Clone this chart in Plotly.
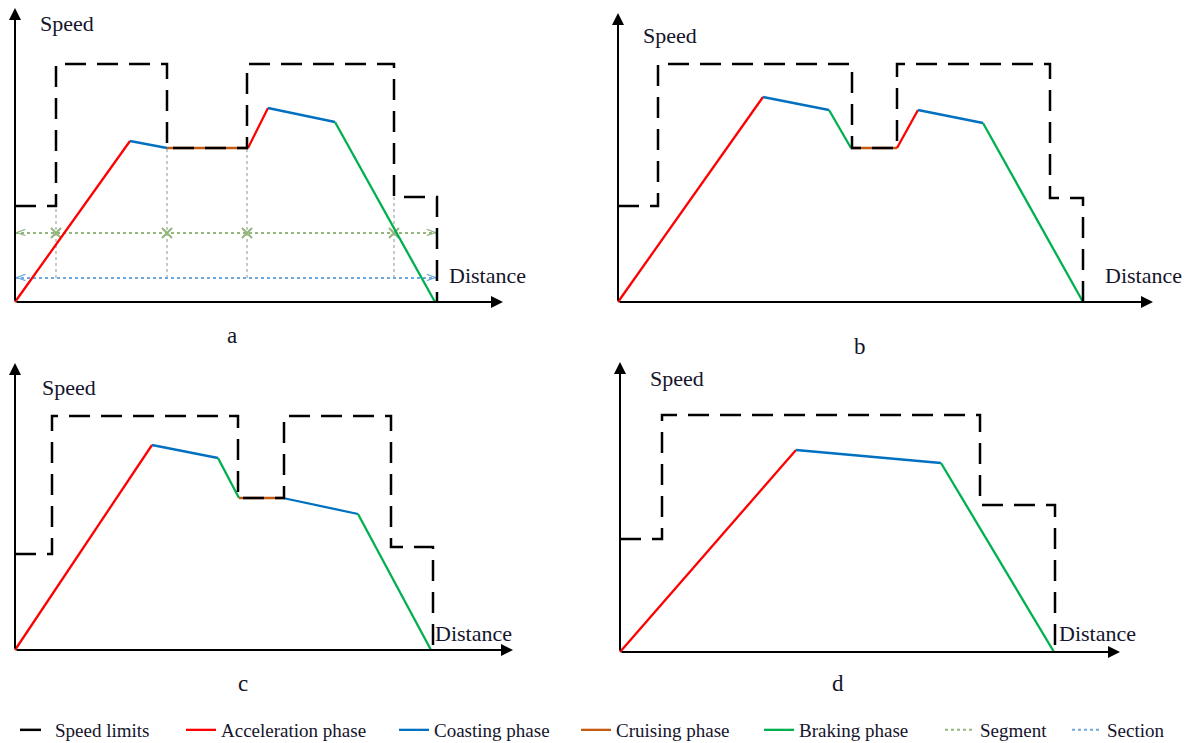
import plotly.graph_objects as go

W, H = 1187, 743
FONT = "Liberation Serif"
TXT = "#14142b"

PHASE_COLOR = {"acc": "#ff0000", "coast": "#0070c0", "cruise": "#c55a11", "brake": "#00b050"}
PHASE_NAME = {"acc": "Acceleration phase", "coast": "Coasting phase",
              "cruise": "Cruising phase", "brake": "Braking phase"}
SEG_COLOR = "#93b67c"
SEC_COLOR = "#6fa8dc"
GRID_COLOR = "#b8b8b8"
LEG_RANK = {"limit": 1, "acc": 2, "coast": 3, "cruise": 4, "brake": 5, "segment": 6, "section": 7}
LEG_W = {"limit": 121, "acc": 168, "coast": 137, "cruise": 138, "brake": 136, "segment": 82, "section": 75}

# ---------------- data (distance / speed, relative to each panel origin) -------------
# panel a
A_LIMIT_D = [0, 41, 41, 152, 152, 232, 232, 379, 379, 422, 422]
A_LIMIT_V = [96, 96, 238, 238, 154, 154, 238, 238, 105, 105, 0]
A_PROF_D = [0, 115, 152, 233, 253, 320, 420]
A_PROF_V = [0, 161, 154, 154, 194, 180, 0]
A_PHASES = ["acc", "coast", "cruise", "acc", "coast", "brake"]
A_SEG_BOUNDS = [0, 41, 152, 232, 379, 422]
A_BOUND_TOP = [96, 154, 154, 105]
A_SEG_LEVEL = 69
A_SEC_LEVEL = 24

# panel b
B_LIMIT_D = [0, 40, 40, 234, 234, 279, 279, 432, 432, 465, 465]
B_LIMIT_V = [96, 96, 238, 238, 154, 154, 238, 238, 104, 104, 0]
B_PROF_D = [0, 145, 211, 233, 279, 300, 365, 465]
B_PROF_V = [0, 205, 192, 154, 154, 192, 179, 0]
B_PHASES = ["acc", "coast", "brake", "cruise", "acc", "coast", "brake"]

# panel c
C_LIMIT_D = [0, 37, 37, 223, 223, 269, 269, 376, 376, 418, 418]
C_LIMIT_V = [96, 96, 234, 234, 152, 152, 234, 234, 103, 103, 0]
C_PROF_D = [0, 137, 203, 224, 268, 343, 416]
C_PROF_V = [0, 205, 192, 152, 152, 136, 0]
C_PHASES = ["acc", "coast", "brake", "cruise", "coast", "brake"]

# panel d
D_LIMIT_D = [0, 42, 42, 360, 360, 435, 435]
D_LIMIT_V = [113, 113, 237, 237, 147, 147, 0]
D_PROF_D = [0, 176, 321, 434]
D_PROF_V = [0, 202, 189, 0]
D_PHASES = ["acc", "coast", "brake"]

PANEL_LABELS = ["a", "b", "c", "d"]

panels = [
    dict(label=PANEL_LABELS[0], lim=(A_LIMIT_D, A_LIMIT_V), prof=(A_PROF_D, A_PROF_V, A_PHASES),
         box=(0, 595, 0, 360), origin=(15, 302), xtip=488, ytip=294,
         speed_pos=(23, 279), dist_pos=(432, 27), lab_pos=(217, -33), segments=True),
    dict(label=PANEL_LABELS[1], lim=(B_LIMIT_D, B_LIMIT_V), prof=(B_PROF_D, B_PROF_V, B_PHASES),
         box=(600, 1187, 0, 360), origin=(618, 302), xtip=535, ytip=289,
         speed_pos=(23, 267), dist_pos=(485, 27), lab_pos=(242, -44), segments=False),
    dict(label=PANEL_LABELS[2], lim=(C_LIMIT_D, C_LIMIT_V), prof=(C_PROF_D, C_PROF_V, C_PHASES),
         box=(0, 595, 360, 700), origin=(15, 650), xtip=498, ytip=287,
         speed_pos=(25, 263), dist_pos=(418, 17), lab_pos=(228, -33), segments=False),
    dict(label=PANEL_LABELS[3], lim=(D_LIMIT_D, D_LIMIT_V), prof=(D_PROF_D, D_PROF_V, D_PHASES),
         box=(600, 1187, 360, 700), origin=(620, 652), xtip=500, ytip=290,
         speed_pos=(28, 274), dist_pos=(437, 19), lab_pos=(218, -31), segments=False),
]

fig = go.Figure()
shown = set()
annotations = []
layout_axes = {}

for i, p in enumerate(panels, start=1):
    sfx = "" if i == 1 else str(i)
    xa, ya = "x" + sfx, "y" + sfx
    x0, x1, y0, y1 = p["box"]
    ox, oy = p["origin"]
    layout_axes["xaxis" + sfx] = dict(domain=[x0 / W, x1 / W], range=[x0 - ox, x1 - ox],
                                       visible=False, anchor=ya, fixedrange=True)
    layout_axes["yaxis" + sfx] = dict(domain=[1 - y1 / H, 1 - y0 / H], range=[oy - y1, oy - y0],
                                       visible=False, anchor=xa, fixedrange=True)

    # segment / section helpers (panel a)
    if p["segments"]:
        gx, gy = [], []
        for b, top in zip(A_SEG_BOUNDS[1:-1], A_BOUND_TOP):
            gx += [b, b, None]
            gy += [A_SEC_LEVEL, top, None]
        fig.add_trace(go.Scatter(x=gx, y=gy, mode="lines", xaxis=xa, yaxis=ya,
                                 line=dict(color=GRID_COLOR, width=1.5, dash="dot"),
                                 showlegend=False, hoverinfo="skip"))
        fig.add_trace(go.Scatter(x=[A_SEG_BOUNDS[0], A_SEG_BOUNDS[-1]], y=[A_SEG_LEVEL] * 2,
                                 mode="lines", xaxis=xa, yaxis=ya, name="Segment",
                                 line=dict(color=SEG_COLOR, width=2, dash="dot"),
                                 legendrank=LEG_RANK["segment"], legendwidth=LEG_W["segment"],
                                 hoverinfo="skip"))
        fig.add_trace(go.Scatter(x=[A_SEG_BOUNDS[0], A_SEG_BOUNDS[-1]], y=[A_SEC_LEVEL] * 2,
                                 mode="lines", xaxis=xa, yaxis=ya, name="Section",
                                 line=dict(color=SEC_COLOR, width=2, dash="dot"),
                                 legendrank=LEG_RANK["section"], legendwidth=LEG_W["section"],
                                 hoverinfo="skip"))
        fig.add_trace(go.Scatter(x=A_SEG_BOUNDS[1:-1], y=[A_SEG_LEVEL] * (len(A_SEG_BOUNDS) - 2),
                                 mode="markers", xaxis=xa, yaxis=ya, showlegend=False,
                                 marker=dict(symbol="x-thin", size=10,
                                             line=dict(color=SEG_COLOR, width=2)),
                                 hoverinfo="skip"))
        # chevron ends of the segment and section lines
        for lvl, col in [(A_SEG_LEVEL, SEG_COLOR), (A_SEC_LEVEL, SEC_COLOR)]:
            fig.add_trace(go.Scatter(x=[A_SEG_BOUNDS[0], A_SEG_BOUNDS[-1]], y=[lvl, lvl],
                                     mode="text", text=["<", ">"],
                                     textposition=["middle right", "middle left"],
                                     textfont=dict(family="DejaVu Sans", size=14, color=col),
                                     xaxis=xa, yaxis=ya, showlegend=False, hoverinfo="skip"))

    # speed profile
    d, v, ph = p["prof"]
    for k, key in enumerate(ph):
        first = key not in shown
        shown.add(key)
        fig.add_trace(go.Scatter(x=d[k:k + 2], y=v[k:k + 2], mode="lines", xaxis=xa, yaxis=ya,
                                 line=dict(color=PHASE_COLOR[key], width=2.3),
                                 name=PHASE_NAME[key], legendgroup=key, showlegend=first,
                                 legendrank=LEG_RANK[key], legendwidth=LEG_W[key],
                                 hoverinfo="skip"))

    # speed limits
    ld, lv = p["lim"]
    fig.add_trace(go.Scatter(x=ld, y=lv, mode="lines", xaxis=xa, yaxis=ya,
                             line=dict(color="black", width=2.5, dash="21px,11px"),
                             name="Speed limits", legendgroup="limit", showlegend=(i == 1),
                             legendrank=LEG_RANK["limit"], legendwidth=LEG_W["limit"],
                             hoverinfo="skip"))

    # axes with arrowheads
    annotations.append(dict(x=p["xtip"], y=0, ax=0, ay=0, xref=xa, yref=ya, axref=xa, ayref=ya,
                            text="", showarrow=True, arrowhead=2, arrowsize=1.2, arrowwidth=2,
                            arrowcolor="black", standoff=0))
    annotations.append(dict(x=0, y=p["ytip"], ax=0, ay=0, xref=xa, yref=ya, axref=xa, ayref=ya,
                            text="", showarrow=True, arrowhead=2, arrowsize=1.2, arrowwidth=2,
                            arrowcolor="black", standoff=0))
    # texts
    annotations.append(dict(x=p["speed_pos"][0], y=p["speed_pos"][1], xref=xa, yref=ya,
                            text="Speed", showarrow=False, xanchor="left", yanchor="middle",
                            font=dict(family=FONT, size=22, color=TXT)))
    annotations.append(dict(x=p["dist_pos"][0], y=p["dist_pos"][1], xref=xa, yref=ya,
                            text="Distance", showarrow=False, xanchor="left", yanchor="middle",
                            font=dict(family=FONT, size=22, color=TXT)))
    annotations.append(dict(x=p["lab_pos"][0], y=p["lab_pos"][1], xref=xa, yref=ya,
                            text=p["label"], showarrow=False, xanchor="center", yanchor="middle",
                            font=dict(family=FONT, size=23, color=TXT)))

fig.update_layout(
    width=W, height=H,
    margin=dict(l=0, r=0, t=0, b=0, autoexpand=False),
    paper_bgcolor="white", plot_bgcolor="white",
    annotations=annotations,
    showlegend=True,
    legend=dict(orientation="h", x=15 / W, xanchor="left", y=1 - 730 / H, yanchor="middle",
                font=dict(family=FONT, size=19, color=TXT), bgcolor="rgba(0,0,0,0)",
                borderwidth=0, traceorder="normal"),
    **layout_axes,
)

fig.write_html("out.html", config={"displayModeBar": False},
               post_script="document.body.style.margin='0px';document.body.style.overflow='hidden';")
